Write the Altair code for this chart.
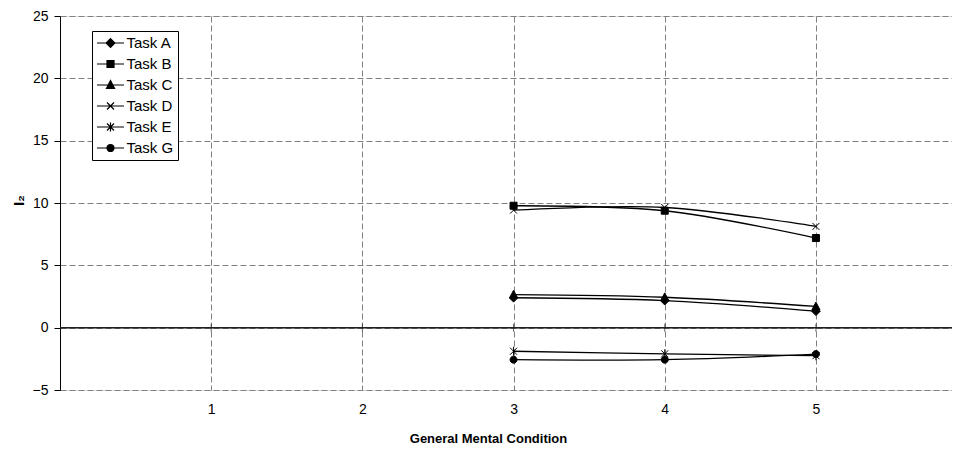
import re
import altair as alt
import pandas as pd

# ---- data ----
tasks = ["Task A", "Task B", "Task C", "Task D", "Task E", "Task G"]
conditions = [3, 4, 5]
task_a = [2.40, 2.17, 1.32]
task_b = [9.78, 9.38, 7.19]
task_c = [2.65, 2.44, 1.70]
task_d = [9.43, 9.64, 8.12]
task_e = [-1.89, -2.10, -2.25]
task_g = [-2.57, -2.57, -2.12]
x_ticks = [1, 2, 3, 4, 5]
y_ticks = [-5, 0, 5, 10, 15, 20, 25]

series = [task_a, task_b, task_c, task_d, task_e, task_g]
df = pd.DataFrame(
    [{"task": t, "cond": c, "value": v}
     for t, vals in zip(tasks, series) for c, v in zip(conditions, vals)]
)
tick_df = pd.DataFrame({"cond": x_ticks})

# ---- marker shapes (unit paths) ----
circle = ("M1,0C1,0.552,0.552,1,0,1C-0.552,1,-1,0.552,-1,0"
          "C-1,-0.552,-0.552,-1,0,-1C0.552,-1,1,-0.552,1,0Z")
markers = [
    "M0,-1.25L1.25,0L0,1.25L-1.25,0Z",          # diamond
    "M-1,-1L1,-1L1,1L-1,1Z",                    # square
    "M0,-1.25L1.15,0.95L-1.15,0.95Z",           # triangle
    "M-1,-1L1,1M-1,1L1,-1",                     # x
    "M-1,-1L1,1M-1,1L1,-1M0,-1.3L0,1.3",        # asterisk
    circle,                                      # circle
]


def scale_path(p, k):
    return re.sub(r"-?\d+(?:\.\d+)?", lambda m: f"{float(m.group()) * k:.4f}", p)


legend_paths = ["M-1.93,0L1.93,0" + scale_path(m, 0.5) for m in markers]

FONT = "Liberation Sans"

x_enc = alt.X(
    "cond:Q",
    scale=alt.Scale(domain=[0, 5.9], nice=False, zero=False),
    axis=alt.Axis(
        values=x_ticks, title="General Mental Condition", grid=True,
        gridColor="#808080", gridDash=[6, 3], gridWidth=1,
        domain=False, ticks=False, labelPadding=12, labelFontSize=14,
        labelColor="black", labelFont=FONT,
        titleFont=FONT, titleFontSize=13, titleFontWeight="bold",
        titleColor="black", titleX=428, titleY=48, titleBaseline="middle",
    ),
)
y_enc = alt.Y(
    "value:Q",
    scale=alt.Scale(domain=[-5, 25], nice=False, zero=False),
    axis=alt.Axis(
        values=y_ticks, title="I₂", grid=True, gridColor="#808080",
        gridDash=[6, 3], gridWidth=1, domain=True, domainColor="black",
        domainWidth=1, ticks=True, tickColor="black", tickSize=6,
        labelPadding=6, labelFontSize=14, labelColor="black", labelFont=FONT,
        titleFont=FONT, titleFontSize=15, titleFontWeight="bold",
        titleColor="black", titleAngle=-90, titleX=-42, titleY=184,
        titleBaseline="middle", titleAlign="center",
    ),
)

base = alt.Chart(df)

lines = base.mark_line(
    color="black", strokeWidth=1.3, interpolate="catmull-rom"
).encode(x=x_enc, y=y_enc, detail="task:N")

points = base.mark_point(
    filled=True, fill="black", stroke="black", strokeWidth=1, size=49, opacity=1
).encode(
    x=x_enc, y=y_enc,
    shape=alt.Shape("task:N", scale=alt.Scale(domain=tasks, range=markers), legend=None),
)

legend_def = alt.Legend(
    title=None, orient="none", legendX=32, legendY=15,
    strokeColor="black", fillColor="white", padding=4,
    symbolSize=196, symbolStrokeWidth=1.2, symbolOpacity=1, symbolOffset=6.5,
    labelFontSize=15, labelFont=FONT, labelColor="black",
    labelOffset=8, rowPadding=5, labelExpr="datum.label + '\u00a0'",
)

legend_layer = base.transform_filter("false").mark_point(
    filled=False, fill="black", strokeWidth=1.2, opacity=1, fillOpacity=1,
).encode(
    x=x_enc, y=y_enc,
    color=alt.Color(
        "task:N", scale=alt.Scale(domain=tasks, range=["black"] * len(tasks)),
        legend=legend_def,
    ),
    shape=alt.Shape(
        "task:N", scale=alt.Scale(domain=tasks, range=legend_paths),
        legend=legend_def,
    ),
)

zero_rule = alt.Chart(tick_df).mark_rule(color="#222222", strokeWidth=1).encode(
    y=alt.datum(0)
)
zero_ticks = alt.Chart(tick_df).mark_tick(
    color="#222222", orient="vertical", size=8, thickness=1
).encode(x=x_enc, y=alt.datum(0))

chart = (
    alt.layer(zero_rule, zero_ticks, lines, points, legend_layer)
    .resolve_scale(shape="independent", color="independent")
    .properties(
        width=892, height=374, autosize="none",
        padding={"left": 52, "top": 8, "right": 0, "bottom": 62},
        background="white",
    )
    .configure_view(stroke=None)
    .configure(font=FONT)
)

chart.save("out.html", embed_options={"renderer": "svg", "actions": False})
